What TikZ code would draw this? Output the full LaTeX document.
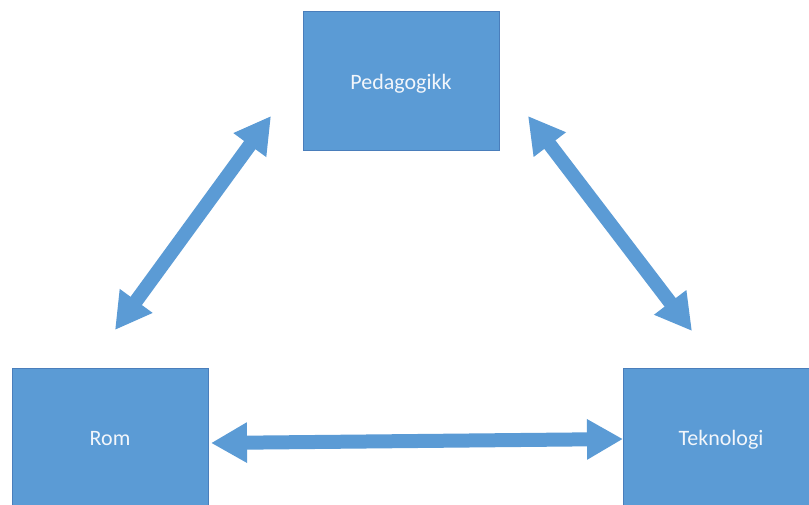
\documentclass[tikz,border=0pt]{standalone}
\usepackage{fontspec}
\setmainfont{Carlito}
\usetikzlibrary{arrows.meta}
\definecolor{boxblue}{HTML}{5B9BD5}
\definecolor{boxline}{HTML}{4A7EBB}
\definecolor{textwhite}{HTML}{F2F6FB}
\tikzset{
  topic/.style={draw=boxline, line width=0.8pt, fill=boxblue, minimum width=196pt, minimum height=139pt,
    inner sep=0pt, text=textwhite, font=\fontsize{22}{26}\selectfont, anchor=center,
    text height=17pt, text depth=1pt},
  link/.style={draw=boxblue, line width=14pt,
    {Triangle[length=36pt,width=38pt]}-{Triangle[length=36pt,width=38pt]}}
}
\begin{document}
\begin{tikzpicture}[x=1pt,y=-1pt]
\useasboundingbox (0,0) rectangle (809,504);
\clip (0,0) rectangle (809,504);
\fill[white] (0,0) rectangle (809,504);
\node[topic] (ped) at (401,81) {Pedagogikk};
\node[topic] (rom) at (110,437.5) {Rom};
\node[topic] (tek) at (721,437.5) {Teknologi};
\coordinate (a1s) at (271,116);
\coordinate (a1e) at (115,330);
\coordinate (a2s) at (528,116);
\coordinate (a2e) at (692,331);
\coordinate (a3s) at (211,443);
\coordinate (a3e) at (623,439);
\draw[link] (a1s) -- (a1e);
\draw[link] (a2s) -- (a2e);
\draw[link] (a3s) -- (a3e);
\end{tikzpicture}
\end{document}
